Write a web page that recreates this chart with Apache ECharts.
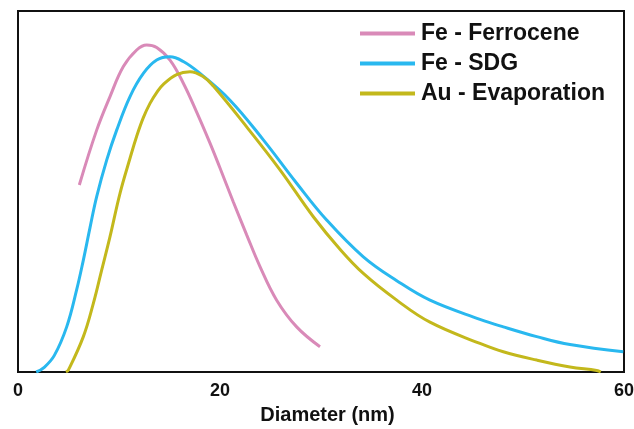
<!DOCTYPE html>
<html>
<head>
<meta charset="utf-8">
<script src="https://cdn.jsdelivr.net/npm/echarts@6/dist/echarts.min.js"></script>
<style>
  html, body { margin: 0; padding: 0; background: #fff; }
  #chart { width: 634px; height: 429px; }
</style>
</head>
<body>
<div id="chart"></div>
<script>
// size distributions, [diameter nm, relative frequency]
const ferrocene = [
  [6.07, 51.8], [7.79, 67.0], [9.11, 76.3], [10.43, 84.6], [11.75, 89.2], [12.74, 90.6],
  [13.73, 89.9], [15.05, 86.4], [16.37, 80.0], [17.69, 72.0], [19.01, 63.4], [20.0, 56.5],
  [21.32, 47.1], [22.64, 38.0], [23.96, 29.2], [25.61, 19.9], [27.59, 12.5], [29.9, 7.0]
];
const sdg = [
  [1.8, 0], [2.6, 1.3], [3.6, 4.6], [4.82, 12.5], [5.81, 22.8], [6.47, 31.0], [7.13, 40.0],
  [7.79, 48.6], [8.78, 58.7], [9.77, 67.0], [11.09, 76.3], [12.41, 82.7], [13.73, 86.4],
  [15.05, 87.3], [16.37, 86.0], [18.02, 82.7], [20.99, 75.3], [24.29, 64.3], [27.59, 52.3],
  [30.56, 42.1], [34.19, 31.9], [37.5, 25.3], [40.79, 19.9], [45.74, 14.6], [48.05, 12.5],
  [51.36, 9.8], [54.65, 7.6], [59.93, 5.6]
];
const evaporation = [
  [4.75, 0], [5.0, 0.6], [6.47, 9.8], [7.46, 19.0], [8.29, 28.3], [9.11, 37.5], [10.1, 49.5],
  [11.09, 59.2], [11.75, 65.3], [12.4, 70.4], [13.07, 74.4], [13.73, 77.4], [14.39, 79.7],
  [15.71, 82.4], [17.03, 83.2], [18.35, 81.8], [19.34, 79.2], [22.64, 67.9], [25.94, 56.0],
  [29.24, 43.0], [31.88, 34.0], [34.19, 27.3], [37.5, 19.9], [40.79, 13.8], [45.74, 7.9],
  [48.05, 5.6], [51.36, 3.3], [54.65, 1.4], [57.3, 0.4], [57.7, 0]
];
const seriesNames = ['Fe - Ferrocene', 'Fe - SDG', 'Au - Evaporation'];
const xTicks = [0, 20, 40, 60];

const chart = echarts.init(document.getElementById('chart'));

function curve(name, data, color) {
  return {
    name: name,
    type: 'line',
    data: data,
    smooth: 0.4,
    symbol: 'none',
    lineStyle: { color: color, width: 3 },
    itemStyle: { color: color }
  };
}

chart.setOption({
  animation: false,
  textStyle: { fontFamily: 'Liberation Sans' },
  grid: {
    left: 18, right: 10, top: 11, bottom: 57,
    outerBoundsMode: 'none',
    show: true, borderColor: '#111', borderWidth: 2
  },
  legend: {
    orient: 'vertical',
    left: 360,
    top: 22,
    padding: 0,
    itemWidth: 55,
    itemHeight: 4,
    itemGap: 7,
    icon: 'rect',
    textStyle: { fontSize: 23, fontWeight: 'bold', color: '#111', padding: [0, 0, 0, 1] },
    data: seriesNames
  },
  xAxis: {
    type: 'value',
    min: 0, max: 60, interval: 20,
    name: 'Diameter (nm)',
    nameLocation: 'middle',
    nameGap: 33,
    nameTextStyle: { fontSize: 20, fontWeight: 'bold', color: '#111', padding: [0, 0, 0, 13] },
    axisLine: { show: false },
    axisTick: { show: false },
    splitLine: { show: false },
    axisLabel: {
      fontSize: 18, fontWeight: 'bold', color: '#111', margin: 10,
      formatter: v => xTicks.includes(v) ? String(v) : ''
    }
  },
  yAxis: {
    type: 'value',
    min: 0, max: 100,
    axisLine: { show: false },
    axisTick: { show: false },
    axisLabel: { show: false },
    splitLine: { show: false }
  },
  series: [
    curve(seriesNames[0], ferrocene, '#d98ab8'),
    curve(seriesNames[1], sdg, '#29b8ef'),
    curve(seriesNames[2], evaporation, '#c3b81c')
  ]
});
</script>
</body>
</html>
